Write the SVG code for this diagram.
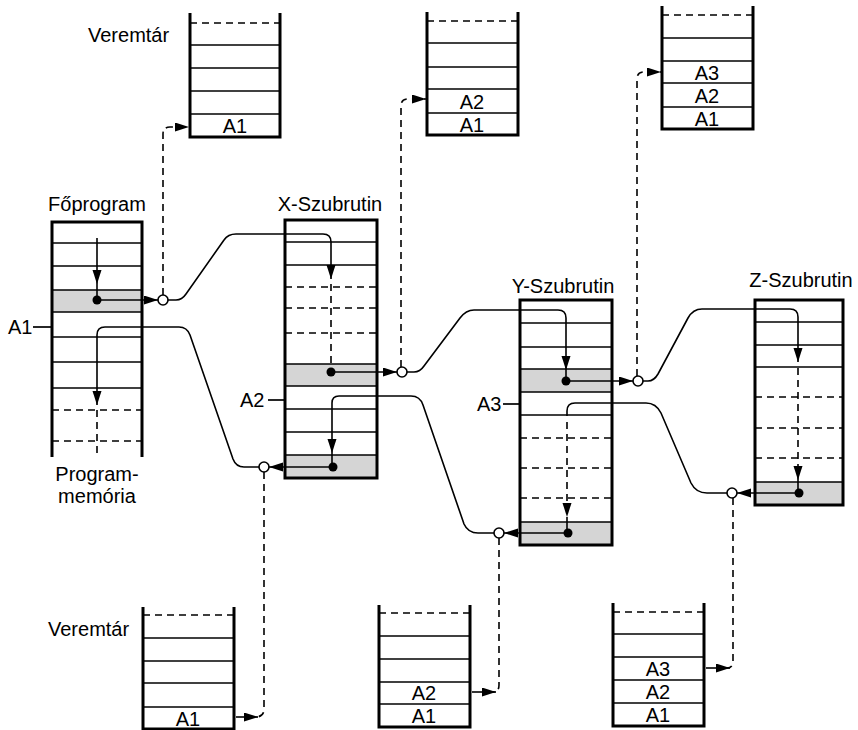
<svg xmlns="http://www.w3.org/2000/svg" width="858" height="730" viewBox="0 0 858 730">
<defs>
<marker id="ah" markerUnits="userSpaceOnUse" markerWidth="16" markerHeight="10" refX="14" refY="4.5" orient="auto">
<path d="M0,0 L14,4.5 L0,9 Z" fill="#000"/>
</marker>
<style>
.t{font-family:"Liberation Sans",Arial,sans-serif;font-size:20px;fill:#000}
.tc{text-anchor:middle}
.bx{fill:none;stroke:#000;stroke-width:3}
.ln{stroke:#000;stroke-width:1.7;fill:none}
.dl{stroke:#000;stroke-width:1.7;stroke-dasharray:7 5;fill:none}
.gr{fill:#d5d5d5}
.c{stroke:#000;stroke-width:1.6;fill:none}
.cd{stroke:#000;stroke-width:1.6;fill:none;stroke-dasharray:7 5}
.dot{fill:#000}
.ring{fill:#fff;stroke:#000;stroke-width:1.6}
</style>
</defs>
<rect width="858" height="730" fill="#fff"/>

<!-- Top stacks -->
<g id="stack-top-1">
<text class="t" x="88" y="42">Veremtár</text>
<line class="dl" x1="190" y1="23" x2="280" y2="23"/>
<line class="ln" x1="190" y1="45" x2="280" y2="45"/>
<line class="ln" x1="190" y1="68" x2="280" y2="68"/>
<line class="ln" x1="190" y1="91" x2="280" y2="91"/>
<line class="ln" x1="190" y1="114" x2="280" y2="114"/>
<path class="bx" d="M190,13 L190,137 L280,137 L280,13"/>
<text class="t tc" x="235" y="133">A1</text>
</g>
<g id="stack-top-2">
<line class="dl" x1="427" y1="21" x2="518" y2="21"/>
<line class="ln" x1="427" y1="43" x2="518" y2="43"/>
<line class="ln" x1="427" y1="67" x2="518" y2="67"/>
<line class="ln" x1="427" y1="89" x2="518" y2="89"/>
<line class="ln" x1="427" y1="113" x2="518" y2="113"/>
<path class="bx" d="M427,12 L427,135 L518,135 L518,12"/>
<text class="t tc" x="472" y="109">A2</text>
<text class="t tc" x="472" y="132">A1</text>
</g>
<g id="stack-top-3">
<line class="dl" x1="662" y1="15" x2="753" y2="15"/>
<line class="ln" x1="662" y1="38" x2="753" y2="38"/>
<line class="ln" x1="662" y1="61" x2="753" y2="61"/>
<line class="ln" x1="662" y1="83" x2="753" y2="83"/>
<line class="ln" x1="662" y1="107" x2="753" y2="107"/>
<path class="bx" d="M662,6 L662,129 L753,129 L753,6"/>
<text class="t tc" x="707" y="80">A3</text>
<text class="t tc" x="707" y="103">A2</text>
<text class="t tc" x="707" y="126">A1</text>
</g>

<!-- Főprogram -->
<g id="foprogram">
<text class="t tc" x="97" y="211">Főprogram</text>
<rect class="gr" x="52" y="290" width="90" height="22"/>
<line class="ln" x1="52" y1="243" x2="142" y2="243"/>
<line class="ln" x1="52" y1="266" x2="142" y2="266"/>
<line class="ln" x1="52" y1="290" x2="142" y2="290"/>
<line class="ln" x1="52" y1="312" x2="142" y2="312"/>
<line class="ln" x1="52" y1="337" x2="142" y2="337"/>
<line class="ln" x1="52" y1="362" x2="142" y2="362"/>
<line class="ln" x1="52" y1="388" x2="142" y2="388"/>
<line class="dl" x1="52" y1="410" x2="142" y2="410"/>
<line class="dl" x1="52" y1="441" x2="142" y2="441"/>
<path class="bx" d="M52,457 L52,222 L142,222 L142,457"/>
<text class="t" x="8" y="334">A1</text>
<line class="ln" x1="33" y1="327" x2="52" y2="327"/>
<text class="t tc" x="97" y="481">Program-</text>
<text class="t tc" x="97" y="503">memória</text>
</g>

<!-- X-Szubrutin -->
<g id="x-szubrutin">
<text class="t tc" x="330" y="211">X-Szubrutin</text>
<rect class="gr" x="285" y="364" width="92" height="22"/>
<rect class="gr" x="285" y="455" width="92" height="23"/>
<line class="ln" x1="285" y1="242" x2="377" y2="242"/>
<line class="ln" x1="285" y1="265" x2="377" y2="265"/>
<line class="dl" x1="285" y1="287" x2="377" y2="287"/>
<line class="dl" x1="285" y1="308" x2="377" y2="308"/>
<line class="dl" x1="285" y1="333" x2="377" y2="333"/>
<line class="ln" x1="285" y1="364" x2="377" y2="364"/>
<line class="ln" x1="285" y1="386" x2="377" y2="386"/>
<line class="ln" x1="285" y1="409" x2="377" y2="409"/>
<line class="ln" x1="285" y1="432" x2="377" y2="432"/>
<line class="ln" x1="285" y1="455" x2="377" y2="455"/>
<rect class="bx" x="285" y="220" width="92" height="258"/>
<text class="t" x="240" y="407">A2</text>
<line class="ln" x1="268" y1="400" x2="285" y2="400"/>
</g>

<!-- Y-Szubrutin -->
<g id="y-szubrutin">
<text class="t tc" x="563" y="293">Y-Szubrutin</text>
<rect class="gr" x="520" y="369" width="92" height="23"/>
<rect class="gr" x="520" y="522" width="92" height="23"/>
<line class="ln" x1="520" y1="323" x2="612" y2="323"/>
<line class="ln" x1="520" y1="347" x2="612" y2="347"/>
<line class="ln" x1="520" y1="369" x2="612" y2="369"/>
<line class="ln" x1="520" y1="392" x2="612" y2="392"/>
<line class="ln" x1="520" y1="415" x2="612" y2="415"/>
<line class="dl" x1="520" y1="438" x2="612" y2="438"/>
<line class="dl" x1="520" y1="468" x2="612" y2="468"/>
<line class="dl" x1="520" y1="498" x2="612" y2="498"/>
<line class="ln" x1="520" y1="522" x2="612" y2="522"/>
<rect class="bx" x="520" y="300" width="92" height="245"/>
<text class="t" x="477" y="411">A3</text>
<line class="ln" x1="503" y1="404" x2="520" y2="404"/>
</g>

<!-- Z-Szubrutin -->
<g id="z-szubrutin">
<text class="t tc" x="801" y="287">Z-Szubrutin</text>
<rect class="gr" x="755" y="482" width="88" height="23"/>
<line class="ln" x1="755" y1="322" x2="843" y2="322"/>
<line class="ln" x1="755" y1="345" x2="843" y2="345"/>
<line class="ln" x1="755" y1="367" x2="843" y2="367"/>
<line class="dl" x1="755" y1="397" x2="843" y2="397"/>
<line class="dl" x1="755" y1="428" x2="843" y2="428"/>
<line class="dl" x1="755" y1="458" x2="843" y2="458"/>
<line class="ln" x1="755" y1="482" x2="843" y2="482"/>
<rect class="bx" x="755" y="300" width="88" height="205"/>
</g>

<!-- Bottom stacks -->
<g id="stack-bottom-1">
<text class="t" x="48" y="636">Veremtár</text>
<line class="dl" x1="143" y1="615" x2="234" y2="615"/>
<line class="ln" x1="143" y1="638" x2="234" y2="638"/>
<line class="ln" x1="143" y1="661" x2="234" y2="661"/>
<line class="ln" x1="143" y1="683" x2="234" y2="683"/>
<line class="ln" x1="143" y1="707" x2="234" y2="707"/>
<path class="bx" d="M143,607 L143,729 L234,729 L234,607"/>
<text class="t tc" x="188" y="726">A1</text>
</g>
<g id="stack-bottom-2">
<line class="dl" x1="379" y1="613" x2="470" y2="613"/>
<line class="ln" x1="379" y1="636" x2="470" y2="636"/>
<line class="ln" x1="379" y1="659" x2="470" y2="659"/>
<line class="ln" x1="379" y1="682" x2="470" y2="682"/>
<line class="ln" x1="379" y1="704" x2="470" y2="704"/>
<path class="bx" d="M379,605 L379,727 L470,727 L470,605"/>
<text class="t tc" x="424" y="700">A2</text>
<text class="t tc" x="424" y="723">A1</text>
</g>
<g id="stack-bottom-3">
<line class="dl" x1="613" y1="612" x2="704" y2="612"/>
<line class="ln" x1="613" y1="634" x2="704" y2="634"/>
<line class="ln" x1="613" y1="657" x2="704" y2="657"/>
<line class="ln" x1="613" y1="680" x2="704" y2="680"/>
<line class="ln" x1="613" y1="703" x2="704" y2="703"/>
<path class="bx" d="M613,603 L613,726 L704,726 L704,603"/>
<text class="t tc" x="658" y="676">A3</text>
<text class="t tc" x="658" y="699">A2</text>
<text class="t tc" x="658" y="722">A1</text>
</g>

<!-- Connectors -->
<g id="connectors">
<!-- Főprogram call -->
<line class="c" x1="97" y1="238" x2="97" y2="284" marker-end="url(#ah)"/>
<line class="c" x1="97" y1="284" x2="97" y2="300"/>
<line class="c" x1="97" y1="300" x2="158" y2="300" marker-end="url(#ah)"/>
<path class="c" d="M168,300 L176,300 Q182,300 186,294 L224,240 Q228,234 236,234 L323,234 Q331,234 331,242 L331,279" marker-end="url(#ah)"/>
<line class="cd" x1="331" y1="284" x2="331" y2="372"/>
<!-- X call -->
<line class="c" x1="331" y1="372" x2="397" y2="372" marker-end="url(#ah)"/>
<path class="c" d="M407,372 L414,372 Q420,372 424,366 L460,318 Q466,310 474,310 L558,310 Q566,310 566,318 L566,370" marker-end="url(#ah)"/>
<line class="c" x1="566" y1="370" x2="566" y2="381"/>
<!-- Y call -->
<line class="c" x1="566" y1="381" x2="633" y2="381" marker-end="url(#ah)"/>
<path class="c" d="M643,381 L648,381 Q654,381 658,374 L688,318 Q693,309 702,309 L790,309 Q798,309 798,317 L798,362" marker-end="url(#ah)"/>
<path class="cd" d="M798,368 L798,480" marker-end="url(#ah)"/>
<line class="c" x1="798" y1="480" x2="798" y2="493"/>
<!-- Z return -->
<line class="c" x1="798" y1="493" x2="737" y2="493" marker-end="url(#ah)"/>
<path class="c" d="M727,493 L707,493 Q696,493 691,483 L661,413 Q656,403 646,403 L575,403 Q567,403 567,411 L567,416"/>
<path class="cd" d="M567,422 L567,517" marker-end="url(#ah)"/>
<line class="c" x1="567" y1="517" x2="567" y2="533"/>
<!-- Y return -->
<line class="c" x1="567" y1="533" x2="504" y2="533" marker-end="url(#ah)"/>
<path class="c" d="M494,533 L478,533 Q468,533 464,524 L423,405 Q420,396 411,396 L339,396 Q332,396 332,403 L332,453" marker-end="url(#ah)"/>
<line class="c" x1="332" y1="453" x2="332" y2="467"/>
<!-- X return -->
<line class="c" x1="332" y1="467" x2="269" y2="467" marker-end="url(#ah)"/>
<path class="c" d="M259,467 L244,467 Q236,467 233,459 L190,335 Q187,327 179,327 L105,327 Q97,327 97,335 L97,405" marker-end="url(#ah)"/>
<line class="cd" x1="97" y1="410" x2="97" y2="457"/>

<!-- stack push / pop dashed links -->
<path class="cd" d="M163,295 L163,134 Q163,127 170,127 L189,127" marker-end="url(#ah)"/>
<path class="cd" d="M401,367 L401,106 Q401,99 408,99 L426,99" marker-end="url(#ah)"/>
<path class="cd" d="M637,376 L637,79 Q637,72 644,72 L661,72" marker-end="url(#ah)"/>
<path class="cd" d="M264,472 L264,709 Q264,716 257,717"/>
<line class="c" x1="236" y1="717" x2="258" y2="717" marker-end="url(#ah)"/>
<path class="cd" d="M499,538 L499,685 Q499,692 493,692"/>
<line class="c" x1="472" y1="692" x2="496" y2="692" marker-end="url(#ah)"/>
<path class="cd" d="M733,498 L733,661 Q733,668 727,668"/>
<line class="c" x1="706" y1="668" x2="730" y2="668" marker-end="url(#ah)"/>

<!-- dots and rings -->
<circle class="dot" cx="97" cy="300" r="4.5"/>
<circle class="dot" cx="331" cy="372" r="4.5"/>
<circle class="dot" cx="566" cy="381" r="4.5"/>
<circle class="dot" cx="799" cy="493" r="4.5"/>
<circle class="dot" cx="568" cy="533" r="4.5"/>
<circle class="dot" cx="333" cy="467" r="4.5"/>
<circle class="ring" cx="163" cy="300" r="5"/>
<circle class="ring" cx="402" cy="372" r="5"/>
<circle class="ring" cx="638" cy="381" r="5"/>
<circle class="ring" cx="732" cy="493" r="5"/>
<circle class="ring" cx="499" cy="533" r="5"/>
<circle class="ring" cx="264" cy="467" r="5"/>
</g>
</svg>
